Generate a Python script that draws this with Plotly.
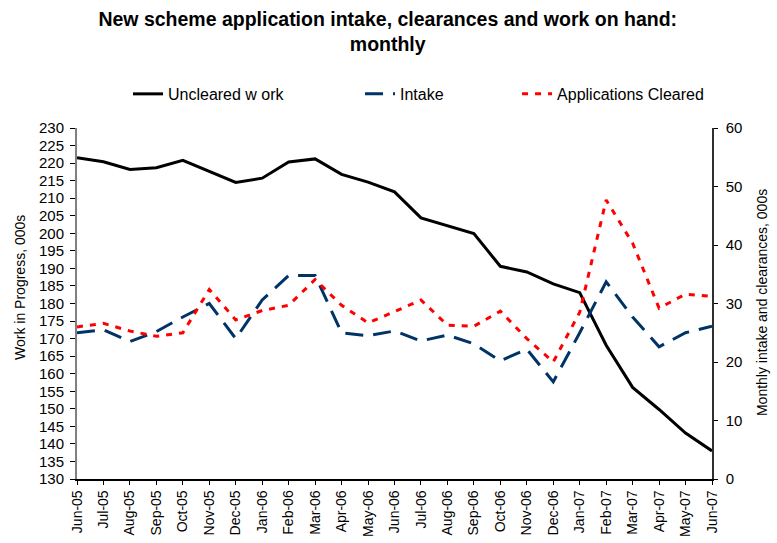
import plotly.graph_objects as go

months = ["Jun-05", "Jul-05", "Aug-05", "Sep-05", "Oct-05", "Nov-05", "Dec-05",
          "Jan-06", "Feb-06", "Mar-06", "Apr-06", "May-06", "Jun-06", "Jul-06",
          "Aug-06", "Sep-06", "Oct-06", "Nov-06", "Dec-06", "Jan-07", "Feb-07",
          "Mar-07", "Apr-07", "May-07", "Jun-07"]

uncleared_work = [221.5, 220.4, 218.2, 218.7, 220.8, 217.7, 214.5, 215.7, 220.3,
                  221.2, 216.8, 214.6, 211.8, 204.4, 202.2, 199.9, 190.6, 189.0,
                  185.6, 183.1, 168.1, 156.1, 149.8, 143.1, 138.0]

intake = [25.0, 25.5, 23.5, 25.2, 27.7, 30.0, 24.0, 30.6, 34.8, 34.8, 25.0, 24.5,
          25.3, 23.6, 24.6, 23.1, 20.2, 22.2, 16.6, 25.0, 33.7, 27.7, 22.6, 25.0, 26.1]

cleared = [26.0, 26.6, 25.3, 24.4, 25.0, 32.4, 27.2, 28.8, 29.7, 34.1, 29.7, 26.7,
           28.6, 30.6, 26.3, 26.1, 28.7, 24.0, 20.0, 28.5, 47.7, 40.3, 29.2, 31.6, 31.2]

left_ticks = list(range(130, 231, 5))
right_ticks = list(range(0, 61, 10))

FONT = "Liberation Sans, Arial, sans-serif"

fig = go.Figure()
fig.add_trace(go.Scatter(x=months, y=uncleared_work, name="Uncleared w ork", legend="legend",
                         mode="lines", line=dict(color="black", width=3)))
fig.add_trace(go.Scatter(x=months, y=intake, name="Intake", yaxis="y2", legend="legend2",
                         mode="lines", line=dict(color="#003366", width=3, dash="18px,10px")))
fig.add_trace(go.Scatter(x=months, y=cleared, name="Applications Cleared", yaxis="y2", legend="legend3",
                         mode="lines", line=dict(color="#ff0000", width=3, dash="6px,7px")))

leg_common = dict(orientation="h", y=1.097, yanchor="middle", xanchor="left",
                  font=dict(family=FONT, size=16, color="black"), bgcolor="rgba(0,0,0,0)")

fig.update_layout(
    width=777, height=543,
    paper_bgcolor="white", plot_bgcolor="white",
    margin=dict(l=77, r=65, t=128, b=64),
    font=dict(family=FONT, size=14, color="black"),
    title=dict(text="<b>New scheme application intake, clearances and work on hand:<br>monthly</b>",
               x=0.499, xanchor="center", y=0.952, yanchor="top",
               font=dict(family=FONT, size=19.5, color="black")),
    showlegend=True,
    legend=dict(x=0.0803, **leg_common),
    legend2=dict(x=0.4457, **leg_common),
    legend3=dict(x=0.693, **leg_common),
    xaxis=dict(type="category", categoryorder="array", categoryarray=months,
               range=[0, 24], tickangle=-90, showgrid=False, zeroline=False, automargin=False,
               showline=True, linecolor="black", linewidth=1.5,
               ticks="outside", ticklen=4, tickcolor="black", tickwidth=1,
               tickfont=dict(family=FONT, size=14)),
    xaxis2=dict(range=[0, 24], tickvals=list(range(25)), overlaying="x", anchor="y",
                showticklabels=False, showgrid=False, zeroline=False, showline=False,
                ticks="inside", ticklen=4, tickcolor="black", tickwidth=1, automargin=False),
    yaxis=dict(range=[130, 230], tickvals=left_ticks, showgrid=False, zeroline=False, automargin=False,
               showline=True, linecolor="#808080", linewidth=2,
               ticks="outside", ticklen=5, tickcolor="black", tickwidth=1,
               ticklabelstandoff=3,
               tickfont=dict(family=FONT, size=15)),
    yaxis2=dict(range=[0, 60], tickvals=right_ticks, overlaying="y", side="right", anchor="x",
                showgrid=False, zeroline=False, automargin=False,
                showline=True, linecolor="#303030", linewidth=1.5,
                ticks="outside", ticklen=4, tickcolor="black", tickwidth=1,
                ticklabelstandoff=5,
                tickfont=dict(family=FONT, size=15)),
    yaxis3=dict(range=[130, 230], tickvals=left_ticks, overlaying="y", anchor="x", side="left",
                showticklabels=False, showgrid=False, zeroline=False, showline=False,
                ticks="inside", ticklen=5, tickcolor="black", tickwidth=1, automargin=False),
    yaxis4=dict(range=[0, 60], tickvals=right_ticks, overlaying="y", anchor="x", side="right",
                showticklabels=False, showgrid=False, zeroline=False, showline=False,
                ticks="inside", ticklen=4, tickcolor="black", tickwidth=1, automargin=False),
    annotations=[
        dict(text="Work in Progress, 000s", xref="paper", yref="paper", x=-0.0898, y=0.547,
             xanchor="center", yanchor="middle", textangle=-90, showarrow=False,
             font=dict(family=FONT, size=14, color="black")),
        dict(text="Monthly intake and clearances, 000s", xref="paper", yref="paper", x=1.0787, y=0.504,
             xanchor="center", yanchor="middle", textangle=-90, showarrow=False,
             font=dict(family=FONT, size=14, color="black")),
    ],
)

fig.write_html("out.html", config={"displayModeBar": False},
               post_script="document.body.style.margin='0px';document.body.style.overflow='hidden';")
